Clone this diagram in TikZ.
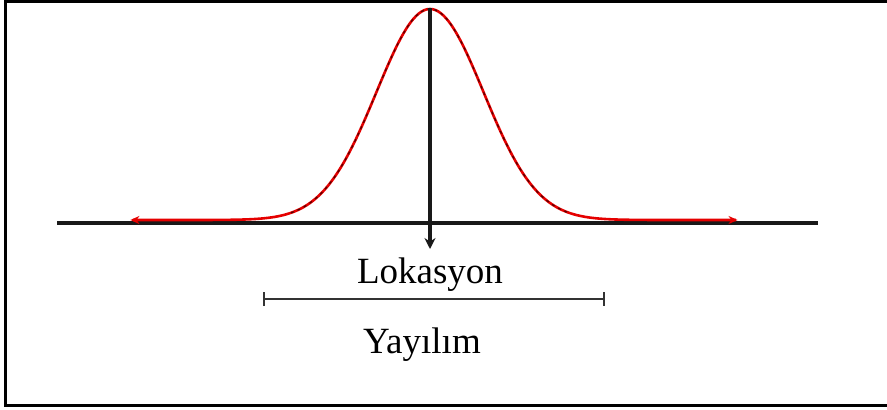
\documentclass[tikz,border=0pt]{standalone}
\usepackage{fontspec}
\setmainfont{Liberation Serif}
\usetikzlibrary{arrows.meta}
\tikzset{
  frameline/.style={line width=3pt, black},
  axisline/.style={line width=3.6pt, black!90},
  curvebase/.style={line width=2.6pt, red!90!black, line cap=round},
  curvedash/.style={line width=1.3pt, black!65!red, dash pattern=on 3pt off 4pt},
  label/.style={font=\fontsize{37}{40}\selectfont, anchor=base, inner sep=0pt}
}
\begin{document}
\begin{tikzpicture}[x=1pt,y=-1pt]
\useasboundingbox (0,0) rectangle (887,410);
% frame (open on the right)
\draw[frameline] (887,1.5) -- (5.5,1.5) -- (5.5,405) -- (887,405);
% horizontal axis
\coordinate (axL) at (57,223);
\coordinate (axR) at (818,223);
\draw[axisline] (axL) -- (axR);
% bell curve
\draw[curvebase, {Stealth[length=9pt,width=8pt]}-{Stealth[length=9pt,width=8pt]}]
  plot[domain=-5.6:5.75, samples=220, smooth, variable=\t]
  ({430+53.5*\t},{220-211*exp(-(\t*\t)/2)});
\draw[curvedash]
  plot[domain=-2.6:2.6, samples=160, smooth, variable=\t]
  ({430+53.5*\t},{220-211*exp(-(\t*\t)/2)});
% location arrow
\coordinate (top) at (430,8);
\coordinate (bot) at (430,249);
\draw[line width=3.4pt, black!90, -{Stealth[length=11pt,width=11pt]}] (top) -- (bot);
% labels
\node[label] (lok) at (430,283) {Lokasyon};
\coordinate (spL) at (263,299);
\coordinate (spR) at (605,299);
\draw[line width=1.8pt, black!80, {Bar[width=14pt]}-{Bar[width=14pt]}] (spL) -- (spR);
\node[label] (yay) at (422,353) {Yayılım};
\end{tikzpicture}
\end{document}
